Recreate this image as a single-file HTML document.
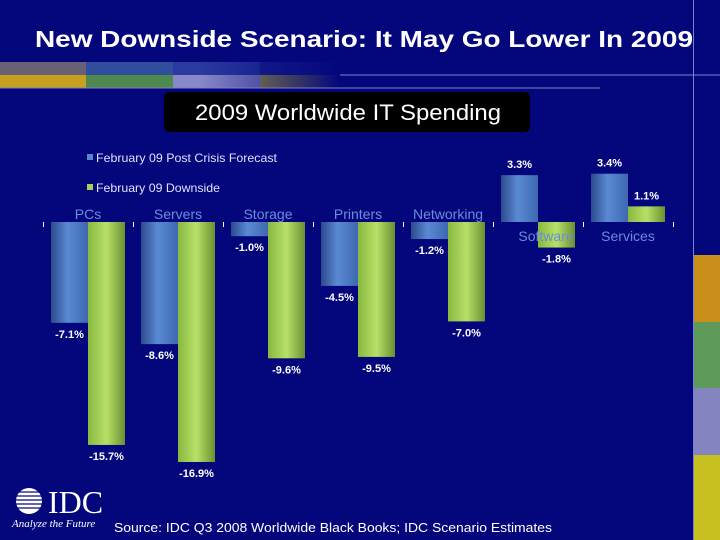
<!DOCTYPE html>
<html><head><meta charset="utf-8"><style>
body{margin:0;width:720px;height:540px;overflow:hidden;background:#04077c;font-family:"Liberation Sans",sans-serif}
#wrap{position:relative;width:720px;height:540px}
</style></head><body>
<div id="wrap">
<svg width="720" height="540" style="position:absolute;left:0;top:0">
<defs>
<linearGradient id="gb" x1="0" x2="1"><stop offset="0" stop-color="#2c4a8c"/><stop offset="0.45" stop-color="#5a8ad4"/><stop offset="1" stop-color="#3e68b0"/></linearGradient>
<linearGradient id="gg" x1="0" x2="1"><stop offset="0" stop-color="#88b840"/><stop offset="0.5" stop-color="#b8e068"/><stop offset="1" stop-color="#6a9030"/></linearGradient>
<linearGradient id="fade" x1="0" x2="1"><stop offset="0" stop-color="#04077c" stop-opacity="0"/><stop offset="1" stop-color="#04077c" stop-opacity="1"/></linearGradient>
</defs>
<text x="35" y="47" fill="#fff" font-size="23" font-weight="bold" textLength="658" lengthAdjust="spacingAndGlyphs">New Downside Scenario: It May Go Lower In 2009</text>
<g>
<rect x="0" y="62" width="86" height="13" fill="#6a6076"/><rect x="0" y="75" width="86" height="13" fill="#c8a020"/>
<rect x="86" y="62" width="87" height="13" fill="#304e9c"/><rect x="86" y="75" width="87" height="13" fill="#4e8a50"/>
<rect x="173" y="62" width="87" height="13" fill="#2a3aa0"/><rect x="173" y="75" width="87" height="13" fill="#8888c8"/>
<rect x="260" y="62" width="80" height="13" fill="#1a2490"/><rect x="260" y="75" width="80" height="13" fill="#a8a030"/>
<rect x="200" y="62" width="140" height="26" fill="url(#fade)"/>
</g>
<line x1="0" y1="88" x2="600" y2="88" stroke="#8080c0" stroke-width="1"/>
<line x1="340" y1="75" x2="720" y2="75" stroke="#7a80d0" stroke-width="1"/>
<line x1="693.5" y1="0" x2="693.5" y2="540" stroke="#7a80d0" stroke-width="1"/>
<g>
<rect x="694" y="255" width="26" height="67" fill="#c8901a"/>
<rect x="694" y="322" width="26" height="66" fill="#5e9a5a"/>
<rect x="694" y="388" width="26" height="67" fill="#8484c0"/>
<rect x="694" y="455" width="26" height="85" fill="#c8c020"/>
</g>
<rect x="164" y="92" width="366" height="40" rx="5" fill="#000"/>
<text x="195" y="120" fill="#fff" font-size="22" textLength="306" lengthAdjust="spacingAndGlyphs">2009 Worldwide IT Spending</text>
<g>
<rect x="87" y="154" width="6" height="6" fill="#5a86cc"/>
<text x="96" y="162" fill="#e0e0ff" font-size="12" textLength="181" lengthAdjust="spacingAndGlyphs">February 09 Post Crisis Forecast</text>
<rect x="87" y="184" width="6" height="6" fill="#a8d058"/>
<text x="96" y="192" fill="#e0e0ff" font-size="12" textLength="124" lengthAdjust="spacingAndGlyphs">February 09 Downside</text>
</g>
<g id="bars"></g>
</svg>
<div style="position:absolute;left:12px;top:486px">
<svg width="100" height="30"><g fill="#fff"><circle cx="17" cy="15" r="13"/></g><g stroke="#04077c" stroke-width="1.2"><line x1="0" y1="6" x2="34" y2="6"/><line x1="0" y1="10" x2="34" y2="10"/><line x1="0" y1="14" x2="34" y2="14"/><line x1="0" y1="18" x2="34" y2="18"/><line x1="0" y1="22" x2="34" y2="22"/></g>
<text x="36" y="27" fill="#fff" font-family="Liberation Serif,serif" font-size="32">IDC</text></svg>
</div>
<div style="position:absolute;left:12px;top:518px;color:#fff;font-family:'Liberation Serif',serif;font-style:italic;font-size:11px">Analyze the Future</div>
<svg width="460" height="20" style="position:absolute;left:110px;top:518px"><text x="4" y="14" fill="#fff" font-size="13" textLength="438" lengthAdjust="spacingAndGlyphs">Source: IDC Q3 2008 Worldwide Black Books; IDC Scenario Estimates</text></svg>
</div>
<script>
const categories=["PCs","Servers","Storage","Printers","Networking","Software","Services"];
const forecast=[-7.1,-8.6,-1.0,-4.5,-1.2,3.3,3.4];
const downside=[-15.7,-16.9,-9.6,-9.5,-7.0,-1.8,1.1];
const NS="http://www.w3.org/2000/svg";
const g=document.getElementById('bars');
const x0=43, groupW=90, y0=222, pxPer=14.2;
function xScale(i){return x0+i*groupW;}
function yScale(v){return y0-v*pxPer;}
function mk(t,a){const e=document.createElementNS(NS,t);for(const k in a)e.setAttribute(k,a[k]);g.appendChild(e);return e;}
function fmt(v){return v.toFixed(1)+'%';}
for(let i=0;i<=categories.length;i++){
  const t=mk('line',{x1:xScale(i)+0.5,y1:y0,x2:xScale(i)+0.5,y2:y0+5,stroke:'#fff','stroke-width':1});
  
  
}
categories.forEach((c,i)=>{
  const gx=xScale(i);
  [[forecast[i],gx+8,'url(#gb)','bar-forecast-'],[downside[i],gx+45,'url(#gg)','bar-downside-']].forEach(([v,bx,fill,nm])=>{
    const y=Math.min(yScale(v),y0), h=Math.abs(yScale(v)-y0);
    const r=mk('rect',{x:bx,y:y,width:37,height:h,fill:fill});
    
    
    const ly=v>=0?yScale(v)-7:yScale(v)+15;
    const t=mk('text',{x:bx+18.5,y:ly,fill:'#fff','font-size':11,'font-weight':'bold','text-anchor':'middle'});
    t.textContent=fmt(v);
    
    
  });
  const below=forecast[i]>0;
  const cl=mk('text',{x:gx+45+(i===5?8:0),y:below?241:219,fill:'#6a8cdc','font-size':14,'text-anchor':'middle'});
  cl.textContent=c;
  
  
});
</script>
</body></html>
